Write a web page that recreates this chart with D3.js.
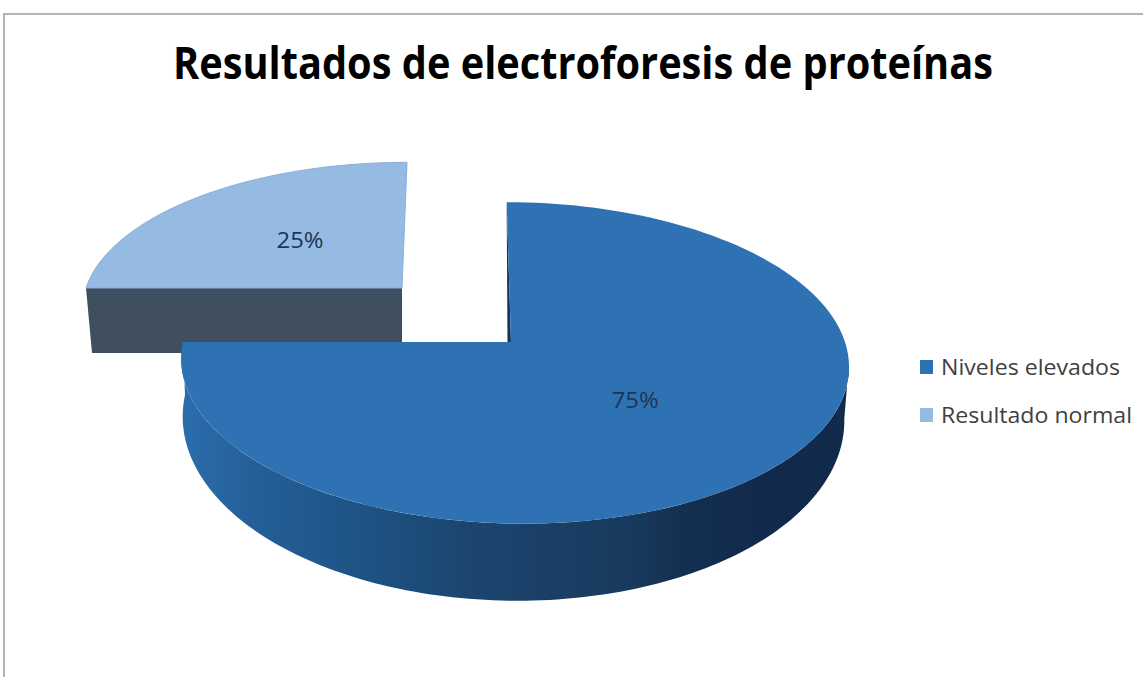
<!DOCTYPE html>
<html><head><meta charset="utf-8">
<script src="https://d3js.org/d3.v7.min.js"></script>
<style>html,body{margin:0;padding:0;background:#fff}svg{display:block}text{font-family:"Open Sans","Noto Sans",sans-serif}</style>
</head><body><svg id="c" width="1143" height="677"></svg>
<script>
const categories = ["Niveles elevados", "Resultado normal"];
const values = [75, 25];
const title = "Resultados de electroforesis de proteínas";

const colors = ["#2e72b4", "#95bbe3"];
const geoms = [
  {ax:511, ay:342, b:331, c:3, a:158, k:0.13, s:0.05, ldx:-3, ldy:7,
   base:{ax:511, ay:395, b:328, c:2, a:179, k:0.13, s:0.02}},
  {ax:402, ay:288, b:316, c:0, a:142, k:0.13, s:-0.04, ldx:3, ldy:8,
   base:{ax:402, ay:353, b:310, c:0, a:142, k:0.13, s:0}}
];
function project(g, theta, r=1){
  const u=Math.sin(theta)*r, v=-Math.cos(theta)*r;
  const w=1-g.k*v;
  const y=(v*g.a)/w;
  const x=(u*g.b+g.c*r)/w + g.s*y;
  return [g.ax+x, g.ay+y];
}
const svg=d3.select("#c");
const line=d3.line();
const arcs=d3.pie().sort(null).startAngle(0).endAngle(2*Math.PI)(values);
function sweep(a0,a1,fn){const n=140;return d3.range(n+1).map(i=>fn(a0+(a1-a0)*i/n));}

// frame
svg.append("path").attr("d",line([[4,677],[4,14],[1143,14]])).attr("fill","none").attr("stroke","#b4b4b4").attr("stroke-width",2);

// wall gradient
const grad=svg.append("defs").append("linearGradient").attr("id","wall").attr("gradientUnits","userSpaceOnUse")
  .attr("x1",181).attr("x2",849).attr("y1",0).attr("y2",0);
[[0,"#2b6dad"],[0.1,"#25609a"],[0.25,"#1f5487"],[0.42,"#1b4670"],[0.55,"#1a3f66"],[0.68,"#18395c"],[0.75,"#142f50"],[0.9,"#11294a"],[1,"#122b4c"]]
  .forEach(([o,c])=>grad.append("stop").attr("offset",o).attr("stop-color",c));

// small slice (exploded)
{
  const d=arcs[1], g=geoms[1];
  const wall=[project(g,d.startAngle),project(g.base,d.startAngle),project(g.base,d.startAngle,0),project(g,d.startAngle,0)];
  svg.append("path").attr("d",line(wall)+"Z").attr("fill","#3f4f60");
  const top=[project(g,0,0),...sweep(d.startAngle,d.endAngle,t=>project(g,t))];
  svg.append("path").attr("d",line(top)+"Z").attr("fill",colors[1]).attr("stroke","#8aaed4").attr("stroke-width",1);
}
// large slice
{
  const d=arcs[0], g=geoms[0];
  const tangent=Math.PI/2+Math.asin(g.k);
  const wall=[...sweep(tangent,d.endAngle,t=>project(g,t)),...sweep(d.endAngle,tangent,t=>project(g.base,t))];
  svg.append("path").attr("d",line(wall)+"Z").attr("fill","url(#wall)");
  const apex=project(g,0,0), rim0=project(g,0);
  svg.append("path").attr("d",line([rim0,apex,[apex[0]-3.5,apex[1]]])+"Z").attr("fill","#14335a");
  const top=[apex,...sweep(d.startAngle,d.endAngle,t=>project(g,t))];
  svg.append("path").attr("d",line(top)+"Z").attr("fill",colors[0]);
}
// data labels
arcs.forEach((d,i)=>{
  const p=project(geoms[i],(d.startAngle+d.endAngle)/2,0.5);
  const total=d3.sum(values);
  svg.append("text").attr("x",p[0]+geoms[i].ldx).attr("y",p[1]+geoms[i].ldy).attr("text-anchor","middle")
    .attr("font-size",22).attr("textLength",47).attr("lengthAdjust","spacingAndGlyphs")
    .attr("fill","#1f3553").text(d3.format(".0%")(d.value/total));
});
// title
svg.append("text").attr("x",173).attr("y",79).attr("font-size",45).attr("font-weight",700)
  .attr("textLength",820).attr("lengthAdjust","spacingAndGlyphs").attr("fill","#000").text(title);
// legend
const ly=d3.scalePoint().domain(categories).range([367,415]);
const lw=[179,191];
categories.forEach((c,i)=>{
  svg.append("rect").attr("x",920).attr("y",ly(c)-7).attr("width",13).attr("height",14).attr("fill",colors[i]);
  svg.append("text").attr("x",941).attr("y",ly(c)+7.5).attr("font-size",21)
    .attr("textLength",lw[i]).attr("lengthAdjust","spacingAndGlyphs").attr("fill","#404040").text(c);
});
</script></body></html>
